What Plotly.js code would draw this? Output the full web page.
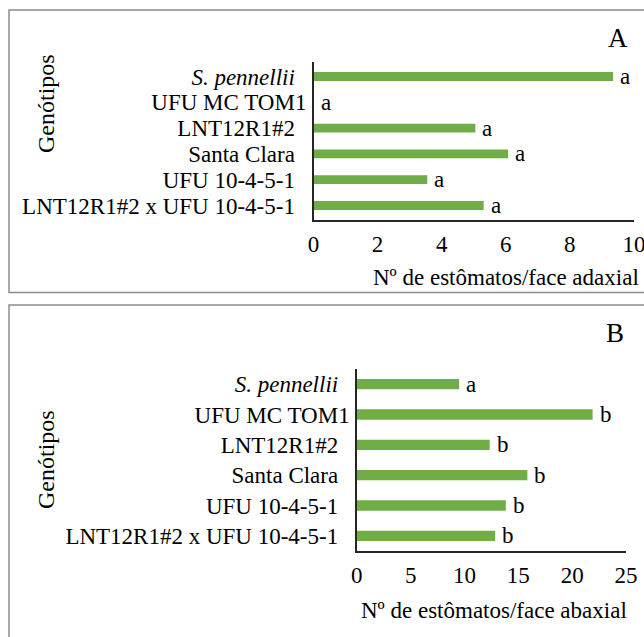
<!DOCTYPE html>
<html>
<head>
<meta charset="utf-8">
<script src="https://cdn.plot.ly/plotly-3.0.1.min.js"></script>
<style>html,body{margin:0;padding:0;background:#fff;}#chart{width:644px;height:637px;}</style>
</head>
<body>
<div id="chart"></div>
<script>
// Data
const categories = ["S. pennellii", "UFU MC TOM1", "LNT12R1#2", "Santa Clara", "UFU 10-4-5-1", "LNT12R1#2 x UFU 10-4-5-1"];
const tickLabels = ["<i>S. pennellii</i>\u00A0\u00A0", "UFU MC TOM1", "LNT12R1#2\u00A0\u00A0", "Santa Clara\u00A0\u00A0", "UFU 10-4-5-1\u00A0\u00A0", "LNT12R1#2 x UFU 10-4-5-1\u00A0\u00A0"];
const adaxial = [9.35, 0, 5.05, 6.07, 3.55, 5.31];
const adaxialLetters = ["a", "a", "a", "a", "a", "a"];
const abaxial = [9.5, 21.9, 12.34, 15.84, 13.84, 12.85];
const abaxialLetters = ["a", "b", "b", "b", "b", "b"];
const panelLetters = ["A", "B"];
const xTitles = ["Nº de estômatos/face adaxial", "Nº de estômatos/face abaxial"];
const yTitle = "Genótipos";

const W = 644, H = 637;
const px = v => v / W;
const py = v => 1 - v / H;
const FONT = "Liberation Serif";
const GREEN = "#70AD47";

const traces = [
  {type: "bar", orientation: "h", y: categories, x: adaxial, marker: {color: GREEN}, xaxis: "x", yaxis: "y", hoverinfo: "none"},
  {type: "bar", orientation: "h", y: categories, x: abaxial, marker: {color: GREEN}, xaxis: "x2", yaxis: "y2", hoverinfo: "none"}
];

const annotations = [];
categories.forEach((c, i) => {
  annotations.push({x: adaxial[i], y: c, xref: "x", yref: "y", text: adaxialLetters[i], showarrow: false, xanchor: "left", yanchor: "middle", xshift: 5, font: {family: FONT, size: 23, color: "#000"}});
  annotations.push({x: abaxial[i], y: c, xref: "x2", yref: "y2", text: abaxialLetters[i], showarrow: false, xanchor: "left", yanchor: "middle", xshift: 5, font: {family: FONT, size: 23, color: "#000"}});
});
// panel letters
annotations.push({x: px(618), y: py(38), xref: "paper", yref: "paper", text: panelLetters[0], showarrow: false, xanchor: "center", yanchor: "middle", font: {family: FONT, size: 27, color: "#000"}});
annotations.push({x: px(615), y: py(333), xref: "paper", yref: "paper", text: panelLetters[1], showarrow: false, xanchor: "center", yanchor: "middle", font: {family: FONT, size: 27, color: "#000"}});
// axis titles
annotations.push({x: px(641), y: py(277), xref: "paper", yref: "paper", text: xTitles[0], showarrow: false, xanchor: "right", yanchor: "middle", font: {family: FONT, size: 23, color: "#000"}});
annotations.push({x: px(629), y: py(610), xref: "paper", yref: "paper", text: xTitles[1], showarrow: false, xanchor: "right", yanchor: "middle", font: {family: FONT, size: 23, color: "#000"}});
annotations.push({x: px(46), y: py(104), xref: "paper", yref: "paper", text: yTitle, showarrow: false, textangle: -90, xanchor: "center", yanchor: "middle", font: {family: FONT, size: 24, color: "#000"}});
annotations.push({x: px(46), y: py(460), xref: "paper", yref: "paper", text: yTitle, showarrow: false, textangle: -90, xanchor: "center", yanchor: "middle", font: {family: FONT, size: 24, color: "#000"}});

const xCommon = {showgrid: false, zeroline: false, showline: true, linecolor: "#262626", linewidth: 1.5, ticks: "", tickfont: {family: FONT, size: 23, color: "#000"}, ticklabelstandoff: 3, ticklabeloverflow: "allow", fixedrange: true};
const yCommon = {type: "category", autorange: "reversed", showgrid: false, zeroline: false, showline: true, linecolor: "#262626", linewidth: 1.5, ticks: "", tickfont: {family: FONT, size: 23, color: "#000"}, tickvals: categories, ticktext: tickLabels, ticklabelstandoff: 1, fixedrange: true};

const layout = {
  width: W, height: H,
  margin: {l: 0, r: 0, t: 0, b: 0},
  paper_bgcolor: "#fff", plot_bgcolor: "#fff",
  showlegend: false,
  bargap: 0.66,
  font: {family: FONT, color: "#000"},
  xaxis: Object.assign({}, xCommon, {domain: [px(313.5), px(634)], range: [0, 10.001], tickvals: [0, 2, 4, 6, 8, 10], anchor: "y"}),
  yaxis: Object.assign({}, yCommon, {domain: [py(220), py(62)], anchor: "x"}),
  xaxis2: Object.assign({}, xCommon, {domain: [px(356.8), px(626)], range: [0, 25.001], tickvals: [0, 5, 10, 15, 20, 25], anchor: "y2"}),
  yaxis2: Object.assign({}, yCommon, {domain: [py(551), py(369)], anchor: "x2"}),
  annotations: annotations,
  shapes: [
    {type: "rect", xref: "paper", yref: "paper", x0: px(9), x1: px(660), y0: py(292.5), y1: py(10), line: {color: "#8c8c8c", width: 1.5}},
    {type: "rect", xref: "paper", yref: "paper", x0: px(9), x1: px(660), y0: py(660), y1: py(305), line: {color: "#8c8c8c", width: 1.5}}
  ]
};

Plotly.newPlot("chart", traces, layout, {displayModeBar: false, staticPlot: true});
</script>
</body>
</html>
